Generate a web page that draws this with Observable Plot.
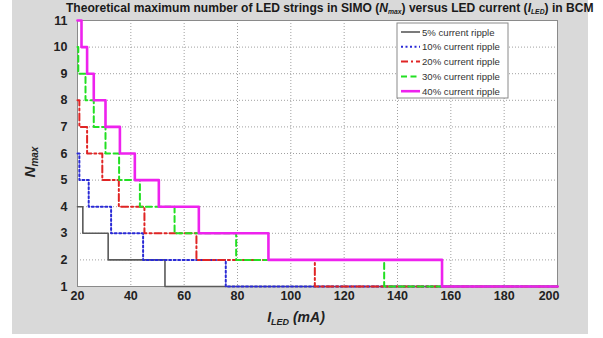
<!DOCTYPE html>
<html>
<head>
<meta charset="utf-8">
<script src="https://cdn.jsdelivr.net/npm/d3@7"></script>
<script src="https://cdn.jsdelivr.net/npm/@observablehq/plot@0.6"></script>
<style>
  html, body { margin: 0; padding: 0; background: #ffffff; }
  #wrap { position: relative; width: 603px; height: 338px; overflow: hidden; }
  #bg { position: absolute; left: 12px; top: 0; width: 576px; height: 334px; background: #d9d9d9; }
  #chart { position: absolute; left: 0; top: 0; }
  #overlay { position: absolute; left: 0; top: 0; pointer-events: none; }
</style>
</head>
<body>
<div id="wrap">
  <div id="bg"></div>
  <div id="chart"></div>
  <svg id="overlay" width="603" height="338" xmlns="http://www.w3.org/2000/svg"></svg>
</div>
<script>
// ---- data ----
const seriesNames = ["5% current ripple", "10% current ripple", "20% current ripple", "30% current ripple", "40% current ripple"];
const ripple5X  = [20, 22, 31.5, 52.8, 200];
const ripple5N  = [4, 3, 2, 1, 1];
const ripple10X = [20, 20.7, 24.2, 32.6, 44.6, 75.6, 200];
const ripple10N = [6, 5, 4, 3, 2, 1, 1];
const ripple20X = [20, 20.7, 23.6, 29.3, 35.5, 45.1, 64.6, 109, 200];
const ripple20N = [8, 7, 6, 5, 4, 3, 2, 1, 1];
const ripple30X = [20, 20.3, 23, 26.1, 30.5, 35.6, 43.4, 56.4, 79.5, 135, 200];
const ripple30N = [10, 9, 8, 7, 6, 5, 4, 3, 2, 1, 1];
const ripple40X = [20, 21.5, 23.6, 26.1, 30.5, 35.9, 41.5, 50.5, 65.5, 91.6, 156.7, 200];
const ripple40N = [11, 10, 9, 8, 7, 6, 5, 4, 3, 2, 1, 1];
const xTicks = [20, 40, 60, 80, 100, 120, 140, 160, 180, 200];
const yTicks = [1, 2, 3, 4, 5, 6, 7, 8, 9, 10, 11];

// ---- styles ----
const styles = [
  {stroke: "#5a5a5a", width: 1.6, dash: null},
  {stroke: "#2a2ad6", width: 2, dash: "2,2.5"},
  {stroke: "#e02424", width: 2, dash: "7,3,2,3"},
  {stroke: "#22e022", width: 2, dash: "6,3.5"},
  {stroke: "#ee22ee", width: 2.6, dash: null}
];
const xs = [ripple5X, ripple10X, ripple20X, ripple30X, ripple40X];
const ns = [ripple5N, ripple10N, ripple20N, ripple30N, ripple40N];
const series = seriesNames.map((name, i) => ({
  name, style: styles[i],
  rows: xs[i].map((x, j) => ({x, n: ns[i][j]}))
}));

const font = "'Liberation Sans', Arial, sans-serif";
const lineMarks = series.map(s => Plot.line(s.rows, {
  x: "x", y: "n", curve: "step-after",
  stroke: s.style.stroke, strokeWidth: s.style.width,
  strokeDasharray: s.style.dash || undefined
}));

const chart = Plot.plot({
  width: 603, height: 338,
  marginLeft: 77, marginRight: 46, marginTop: 20, marginBottom: 52,
  style: {background: "transparent", fontFamily: font, overflow: "visible"},
  x: {domain: [20, 200]},
  y: {domain: [1, 11]},
  marks: [
    Plot.frame({fill: "white", stroke: "none"}),
    Plot.gridX(xTicks, {stroke: "#a0a0a0", strokeOpacity: 1, strokeDasharray: "1,2"}),
    Plot.gridY(yTicks, {stroke: "#a0a0a0", strokeOpacity: 1, strokeDasharray: "1,2"}),
    Plot.frame({stroke: "#8a8a8a", strokeWidth: 1}),
    ...lineMarks,
    Plot.axisX(xTicks.filter(t => t < 200), {tickSize: 0, tickPadding: 5, fontSize: 12.5, fontWeight: "bold", fill: "#222", label: null}),
    Plot.axisX([200], {tickSize: 0, tickPadding: 5, fontSize: 12.5, fontWeight: "bold", fill: "#222", label: null, textAnchor: "end", dx: 2}),
    Plot.axisY(yTicks, {tickSize: 0, tickPadding: 10, fontSize: 12.5, fontWeight: "bold", fill: "#222", label: null})
  ]
});
document.getElementById("chart").appendChild(chart);

// ---- overlay: title, axis labels, legend ----
const ov = d3.select("#overlay");
const titleG = ov.append("g");
const title = titleG.append("text")
  .attr("x", 0).attr("y", 0)
  .attr("font-family", "'Liberation Sans Narrow', 'Liberation Sans', Arial, sans-serif")
  .attr("font-size", 12.5).attr("font-weight", "bold").attr("fill", "#1a1a1a");
title.append("tspan").text("Theoretical maximum number of LED strings in SIMO (");
title.append("tspan").attr("font-style", "italic").text("N");
title.append("tspan").attr("font-style", "italic").attr("font-size", 7).attr("dy", 2).text("max");
title.append("tspan").attr("dy", -2).text(") versus LED current (");
title.append("tspan").attr("font-style", "italic").text("I");
title.append("tspan").attr("font-style", "italic").attr("font-size", 7).attr("dy", 2).text("LED");
title.append("tspan").attr("dy", -2).text(") in BCM");
const tw = title.node().getComputedTextLength();
titleG.attr("transform", `translate(66,12) scale(${528 / tw},1)`);

// y label
const yl = ov.append("text")
  .attr("transform", "translate(35,162) rotate(-90)")
  .attr("text-anchor", "middle")
  .attr("font-family", font).attr("font-size", 15).attr("font-weight", "bold")
  .attr("font-style", "italic").attr("fill", "#222");
yl.append("tspan").text("N");
yl.append("tspan").attr("font-size", 10).attr("dy", 3).text("max");

// x label
const xl = ov.append("text")
  .attr("x", 296).attr("y", 322)
  .attr("text-anchor", "middle")
  .attr("font-family", font).attr("font-size", 14).attr("font-weight", "bold")
  .attr("font-style", "italic").attr("fill", "#222");
xl.append("tspan").text("I");
xl.append("tspan").attr("font-size", 9).attr("dy", 3).text("LED");
xl.append("tspan").attr("dy", -3).text(" (mA)");

// legend
const lg = ov.append("g");
lg.append("rect").attr("x", 397).attr("y", 23).attr("width", 111).attr("height", 75)
  .attr("fill", "white").attr("stroke", "#8a8a8a").attr("stroke-width", 1);
series.forEach((s, i) => {
  const y = 32 + i * 14.8;
  lg.append("line").attr("x1", 401).attr("x2", 420).attr("y1", y).attr("y2", y)
    .attr("stroke", s.style.stroke).attr("stroke-width", s.style.width)
    .attr("stroke-dasharray", s.style.dash || null);
  lg.append("text").attr("x", 422).attr("y", y + 3.5)
    .attr("font-family", font).attr("font-size", 9.6).attr("fill", "#333")
    .text(s.name);
});
</script>
</body>
</html>
